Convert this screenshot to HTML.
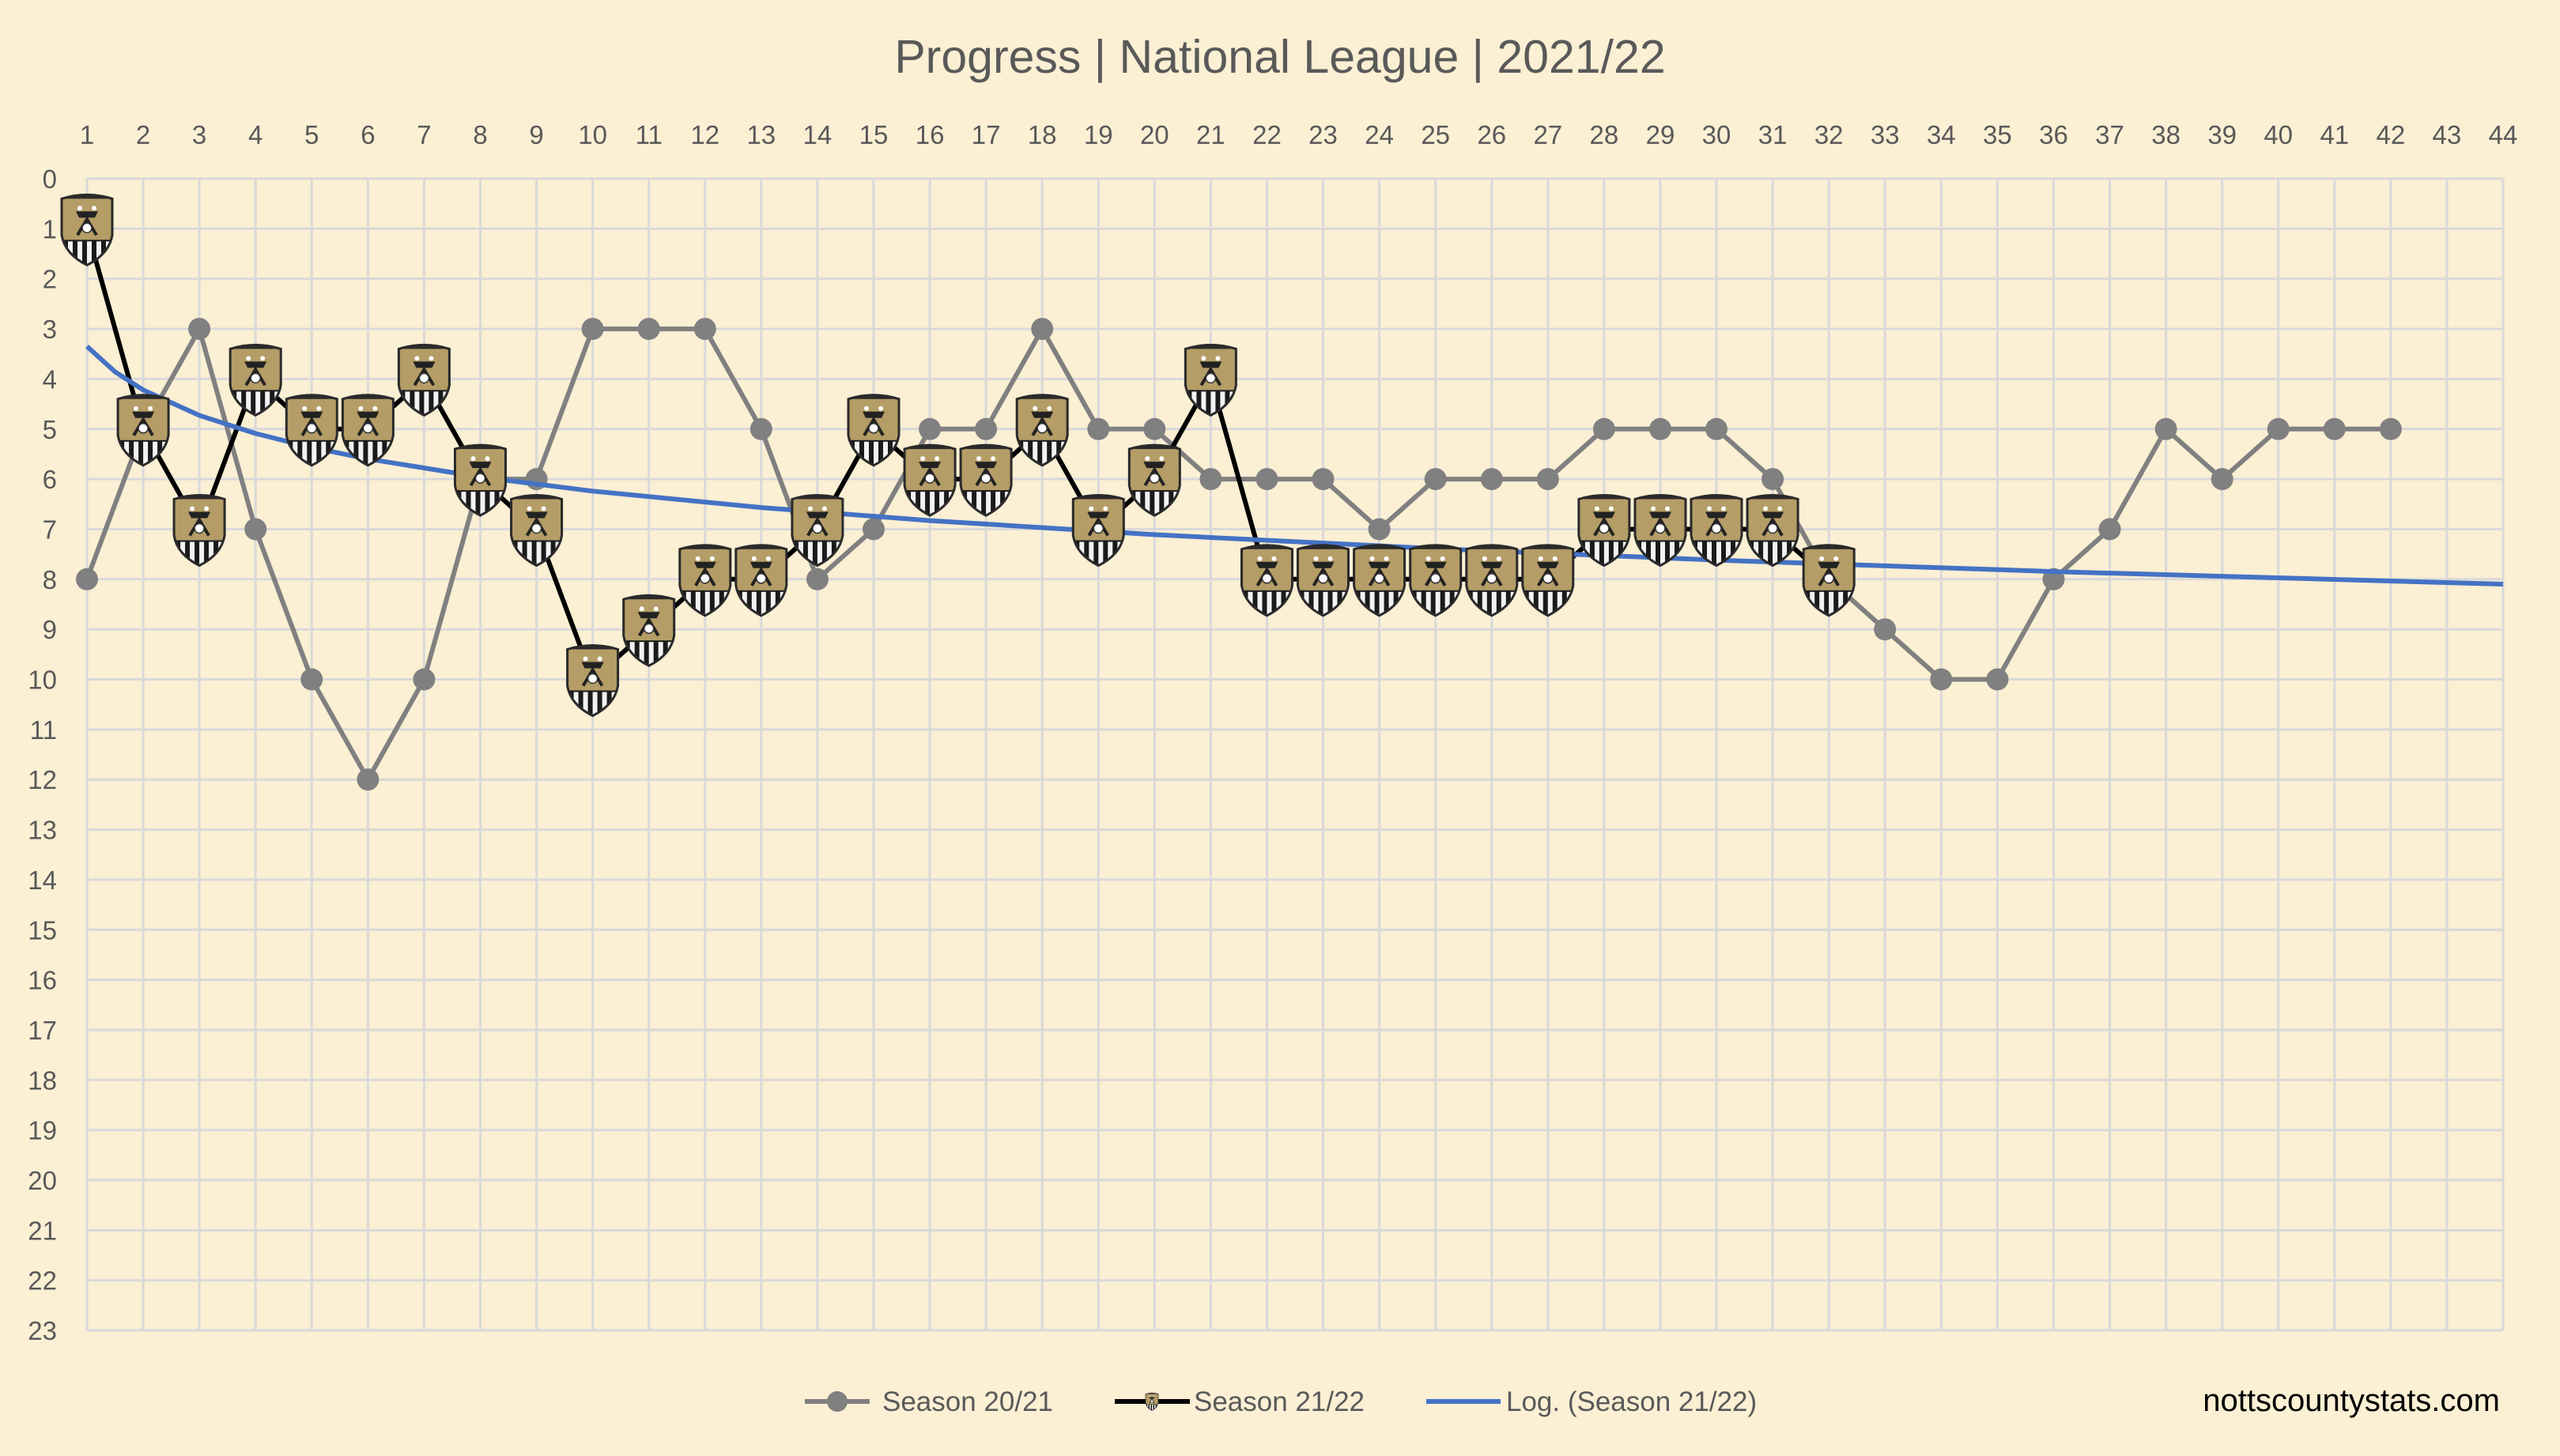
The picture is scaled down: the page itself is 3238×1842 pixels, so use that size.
<!DOCTYPE html>
<html><head><meta charset="utf-8"><style>
html,body{margin:0;padding:0;background:#fbefd4;}
svg{display:block;font-family:"Liberation Sans",sans-serif;}
</style></head><body>
<svg width="3238" height="1842" viewBox="0 0 3238 1842" xmlns="http://www.w3.org/2000/svg">
<defs>
<clipPath id="sc"><path d="M-32,-38 Q0,-48 32,-38 L32,8 Q28,32 0,46 Q-28,32 -32,8 Z"/></clipPath>
<g id="b">
<g clip-path="url(#sc)">
<rect x="-34" y="-48" width="68" height="96" fill="#1a1a1a"/>
<rect x="-34" y="-48" width="68" height="62" fill="#b49d66"/>
<rect x="-34" y="-48" width="68" height="10" fill="#2a2a2a"/>
<rect x="-24" y="16" width="6" height="32" fill="#f2f2f2"/>
<rect x="-12" y="16" width="6" height="32" fill="#f2f2f2"/>
<rect x="0" y="16" width="6" height="32" fill="#f2f2f2"/>
<rect x="12" y="16" width="6" height="32" fill="#f2f2f2"/>
<rect x="24" y="16" width="6" height="32" fill="#f2f2f2"/>
</g>
<path d="M-32,-38 Q0,-48 32,-38 L32,8 Q28,32 0,46 Q-28,32 -32,8 Z" fill="none" stroke="#2a2a2a" stroke-width="3"/>
<path d="M-14,-22 L14,-22 L10,-14 L-10,-14 Z" fill="#222"/>
<path d="M-12,8 L0,-12 L12,8" fill="none" stroke="#222" stroke-width="4"/>
<circle cx="0" cy="-1" r="6" fill="#fff" stroke="#333" stroke-width="1.5"/>
<circle cx="-9" cy="-26" r="3" fill="#fff"/><circle cx="9" cy="-26" r="3" fill="#fff"/>
</g>
</defs>
<rect width="3238" height="1842" fill="#fbefd4"/>
<text x="1619" y="92" font-size="59" fill="#595959" text-anchor="middle">Progress | National League | 2021/22</text>
<g stroke="#d9d9d9" stroke-width="3">
<path d="M110 226H3166M110 289.4H3166M110 352.7H3166M110 416.1H3166M110 479.4H3166M110 542.8H3166M110 606.1H3166M110 669.5H3166M110 732.8H3166M110 796.2H3166M110 859.5H3166M110 922.9H3166M110 986.2H3166M110 1049.6H3166M110 1112.9H3166M110 1176.3H3166M110 1239.6H3166M110 1303H3166M110 1366.3H3166M110 1429.7H3166M110 1493H3166M110 1556.4H3166M110 1619.7H3166M110 1683H3166"/>
<path d="M110 226V1683M181.1 226V1683M252.1 226V1683M323.2 226V1683M394.3 226V1683M465.4 226V1683M536.4 226V1683M607.5 226V1683M678.6 226V1683M749.6 226V1683M820.7 226V1683M891.8 226V1683M962.8 226V1683M1033.9 226V1683M1105 226V1683M1176.1 226V1683M1247.1 226V1683M1318.2 226V1683M1389.3 226V1683M1460.3 226V1683M1531.4 226V1683M1602.5 226V1683M1673.5 226V1683M1744.6 226V1683M1815.7 226V1683M1886.8 226V1683M1957.8 226V1683M2028.9 226V1683M2100 226V1683M2171 226V1683M2242.1 226V1683M2313.2 226V1683M2384.2 226V1683M2455.3 226V1683M2526.4 226V1683M2597.5 226V1683M2668.5 226V1683M2739.6 226V1683M2810.7 226V1683M2881.7 226V1683M2952.8 226V1683M3023.9 226V1683M3094.9 226V1683M3166 226V1683"/>
</g>
<g font-size="33" fill="#595959" text-anchor="middle">
<text x="110" y="182">1</text><text x="181.1" y="182">2</text><text x="252.1" y="182">3</text><text x="323.2" y="182">4</text><text x="394.3" y="182">5</text><text x="465.4" y="182">6</text><text x="536.4" y="182">7</text><text x="607.5" y="182">8</text><text x="678.6" y="182">9</text><text x="749.6" y="182">10</text><text x="820.7" y="182">11</text><text x="891.8" y="182">12</text><text x="962.8" y="182">13</text><text x="1033.9" y="182">14</text><text x="1105" y="182">15</text><text x="1176.1" y="182">16</text><text x="1247.1" y="182">17</text><text x="1318.2" y="182">18</text><text x="1389.3" y="182">19</text><text x="1460.3" y="182">20</text><text x="1531.4" y="182">21</text><text x="1602.5" y="182">22</text><text x="1673.5" y="182">23</text><text x="1744.6" y="182">24</text><text x="1815.7" y="182">25</text><text x="1886.8" y="182">26</text><text x="1957.8" y="182">27</text><text x="2028.9" y="182">28</text><text x="2100" y="182">29</text><text x="2171" y="182">30</text><text x="2242.1" y="182">31</text><text x="2313.2" y="182">32</text><text x="2384.2" y="182">33</text><text x="2455.3" y="182">34</text><text x="2526.4" y="182">35</text><text x="2597.5" y="182">36</text><text x="2668.5" y="182">37</text><text x="2739.6" y="182">38</text><text x="2810.7" y="182">39</text><text x="2881.7" y="182">40</text><text x="2952.8" y="182">41</text><text x="3023.9" y="182">42</text><text x="3094.9" y="182">43</text><text x="3166" y="182">44</text>
</g>
<g font-size="33" fill="#595959" text-anchor="end">
<text x="72" y="238">0</text><text x="72" y="301.4">1</text><text x="72" y="364.7">2</text><text x="72" y="428.1">3</text><text x="72" y="491.4">4</text><text x="72" y="554.8">5</text><text x="72" y="618.1">6</text><text x="72" y="681.5">7</text><text x="72" y="744.8">8</text><text x="72" y="808.2">9</text><text x="72" y="871.5">10</text><text x="72" y="934.9">11</text><text x="72" y="998.2">12</text><text x="72" y="1061.6">13</text><text x="72" y="1124.9">14</text><text x="72" y="1188.3">15</text><text x="72" y="1251.6">16</text><text x="72" y="1315">17</text><text x="72" y="1378.3">18</text><text x="72" y="1441.7">19</text><text x="72" y="1505">20</text><text x="72" y="1568.4">21</text><text x="72" y="1631.7">22</text><text x="72" y="1695">23</text>
</g>
<polyline fill="none" stroke="#808080" stroke-width="6" stroke-linejoin="round" points="110,732.8 181.1,542.8 252.1,416.1 323.2,669.5 394.3,859.5 465.4,986.2 536.4,859.5 607.5,606.1 678.6,606.1 749.6,416.1 820.7,416.1 891.8,416.1 962.8,542.8 1033.9,732.8 1105,669.5 1176.1,542.8 1247.1,542.8 1318.2,416.1 1389.3,542.8 1460.3,542.8 1531.4,606.1 1602.5,606.1 1673.5,606.1 1744.6,669.5 1815.7,606.1 1886.8,606.1 1957.8,606.1 2028.9,542.8 2100,542.8 2171,542.8 2242.1,606.1 2313.2,732.8 2384.2,796.2 2455.3,859.5 2526.4,859.5 2597.5,732.8 2668.5,669.5 2739.6,542.8 2810.7,606.1 2881.7,542.8 2952.8,542.8 3023.9,542.8"/>
<g fill="#808080">
<circle cx="110" cy="732.8" r="14"/><circle cx="181.1" cy="542.8" r="14"/><circle cx="252.1" cy="416.1" r="14"/><circle cx="323.2" cy="669.5" r="14"/><circle cx="394.3" cy="859.5" r="14"/><circle cx="465.4" cy="986.2" r="14"/><circle cx="536.4" cy="859.5" r="14"/><circle cx="607.5" cy="606.1" r="14"/><circle cx="678.6" cy="606.1" r="14"/><circle cx="749.6" cy="416.1" r="14"/><circle cx="820.7" cy="416.1" r="14"/><circle cx="891.8" cy="416.1" r="14"/><circle cx="962.8" cy="542.8" r="14"/><circle cx="1033.9" cy="732.8" r="14"/><circle cx="1105" cy="669.5" r="14"/><circle cx="1176.1" cy="542.8" r="14"/><circle cx="1247.1" cy="542.8" r="14"/><circle cx="1318.2" cy="416.1" r="14"/><circle cx="1389.3" cy="542.8" r="14"/><circle cx="1460.3" cy="542.8" r="14"/><circle cx="1531.4" cy="606.1" r="14"/><circle cx="1602.5" cy="606.1" r="14"/><circle cx="1673.5" cy="606.1" r="14"/><circle cx="1744.6" cy="669.5" r="14"/><circle cx="1815.7" cy="606.1" r="14"/><circle cx="1886.8" cy="606.1" r="14"/><circle cx="1957.8" cy="606.1" r="14"/><circle cx="2028.9" cy="542.8" r="14"/><circle cx="2100" cy="542.8" r="14"/><circle cx="2171" cy="542.8" r="14"/><circle cx="2242.1" cy="606.1" r="14"/><circle cx="2313.2" cy="732.8" r="14"/><circle cx="2384.2" cy="796.2" r="14"/><circle cx="2455.3" cy="859.5" r="14"/><circle cx="2526.4" cy="859.5" r="14"/><circle cx="2597.5" cy="732.8" r="14"/><circle cx="2668.5" cy="669.5" r="14"/><circle cx="2739.6" cy="542.8" r="14"/><circle cx="2810.7" cy="606.1" r="14"/><circle cx="2881.7" cy="542.8" r="14"/><circle cx="2952.8" cy="542.8" r="14"/><circle cx="3023.9" cy="542.8" r="14"/>
</g>
<polyline fill="none" stroke="#000" stroke-width="6" stroke-linejoin="round" points="110,289.4 181.1,542.8 252.1,669.5 323.2,479.4 394.3,542.8 465.4,542.8 536.4,479.4 607.5,606.1 678.6,669.5 749.6,859.5 820.7,796.2 891.8,732.8 962.8,732.8 1033.9,669.5 1105,542.8 1176.1,606.1 1247.1,606.1 1318.2,542.8 1389.3,669.5 1460.3,606.1 1531.4,479.4 1602.5,732.8 1673.5,732.8 1744.6,732.8 1815.7,732.8 1886.8,732.8 1957.8,732.8 2028.9,669.5 2100,669.5 2171,669.5 2242.1,669.5 2313.2,732.8"/>
<polyline fill="none" stroke="#4472c4" stroke-width="6" stroke-linejoin="round" points="110,438.2 145.5,470.4 181.1,493.3 252.1,525.5 323.2,548.4 394.3,566.2 465.4,580.6 607.5,603.5 749.6,621.3 962.8,642.1 1176.1,658.6 1460.3,676.4 1815.7,694.1 2171,708.6 2597.5,723.1 3166,739"/>
<g>
<use href="#b" x="110" y="289.4"/><use href="#b" x="181.1" y="542.8"/><use href="#b" x="252.1" y="669.5"/><use href="#b" x="323.2" y="479.4"/><use href="#b" x="394.3" y="542.8"/><use href="#b" x="465.4" y="542.8"/><use href="#b" x="536.4" y="479.4"/><use href="#b" x="607.5" y="606.1"/><use href="#b" x="678.6" y="669.5"/><use href="#b" x="749.6" y="859.5"/><use href="#b" x="820.7" y="796.2"/><use href="#b" x="891.8" y="732.8"/><use href="#b" x="962.8" y="732.8"/><use href="#b" x="1033.9" y="669.5"/><use href="#b" x="1105" y="542.8"/><use href="#b" x="1176.1" y="606.1"/><use href="#b" x="1247.1" y="606.1"/><use href="#b" x="1318.2" y="542.8"/><use href="#b" x="1389.3" y="669.5"/><use href="#b" x="1460.3" y="606.1"/><use href="#b" x="1531.4" y="479.4"/><use href="#b" x="1602.5" y="732.8"/><use href="#b" x="1673.5" y="732.8"/><use href="#b" x="1744.6" y="732.8"/><use href="#b" x="1815.7" y="732.8"/><use href="#b" x="1886.8" y="732.8"/><use href="#b" x="1957.8" y="732.8"/><use href="#b" x="2028.9" y="669.5"/><use href="#b" x="2100" y="669.5"/><use href="#b" x="2171" y="669.5"/><use href="#b" x="2242.1" y="669.5"/><use href="#b" x="2313.2" y="732.8"/>
</g>
<g font-size="35" fill="#595959">
<line x1="1018" y1="1773" x2="1100" y2="1773" stroke="#808080" stroke-width="6"/>
<circle cx="1059" cy="1773" r="13" fill="#808080"/>
<text x="1116" y="1785">Season 20/21</text>
<line x1="1410" y1="1773" x2="1505" y2="1773" stroke="#000" stroke-width="6"/>
<g transform="translate(1457,1773) scale(0.25)"><use href="#b"/></g>
<text x="1510" y="1785">Season 21/22</text>
<line x1="1804" y1="1773" x2="1898" y2="1773" stroke="#4472c4" stroke-width="6"/>
<text x="1905" y="1785">Log. (Season 21/22)</text>
</g>
<text x="3162" y="1785" font-size="40" fill="#000" text-anchor="end">nottscountystats.com</text>
</svg>
</body></html>
